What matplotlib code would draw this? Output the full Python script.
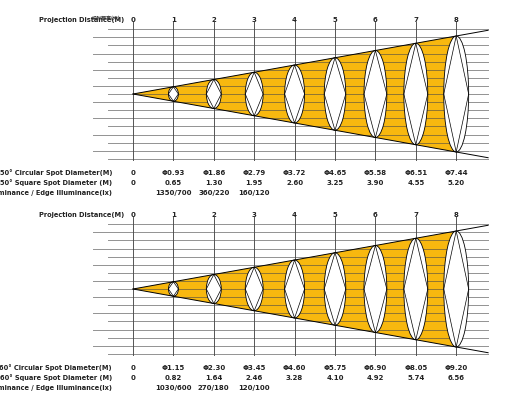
import matplotlib
matplotlib.use("Agg")
import matplotlib.pyplot as plt
from matplotlib.patches import Ellipse, Polygon
import numpy as np

# chart data
distances = [0, 1, 2, 3, 4, 5, 6, 7, 8]
circ_50 = [0, 0.93, 1.86, 2.79, 3.72, 4.65, 5.58, 6.51, 7.44]
square_50 = [0, 0.65, 1.30, 1.95, 2.60, 3.25, 3.90, 4.55, 5.20]
lux_50 = ["1350/700", "360/220", "160/120"]
circ_60 = [0, 1.15, 2.30, 3.45, 4.60, 5.75, 6.90, 8.05, 9.20]
square_60 = [0, 0.82, 1.64, 2.46, 3.28, 4.10, 4.92, 5.74, 6.56]
lux_60 = ["1030/600", "270/180", "120/100"]

plt.rcParams['font.family'] = ['Liberation Sans Narrow', 'DejaVu Sans']

YELLOW = '#F8B80F'
TXT = '#222222'
PX_X = 40.4   # px per metre
PX_Y = 8.1    # px per grid unit
W, H = 515, 405

fig = plt.figure(figsize=(W / 100, H / 100), dpi=100)


def panel(top_px, angle, circ, square, lux, garble=False):
    ax = fig.add_axes([0, 1 - (top_px + 200) / H, 1, 200 / H])
    ax.set_xlim(-133 / PX_X, (W - 133) / PX_X)
    ax.set_ylim((94 - 200) / PX_Y, 94 / PX_Y)
    ax.axis('off')

    half_max = 7.16
    k = half_max / (circ[-1] / 2)
    slope = half_max / distances[-1]
    x_end = 8.79
    x_a, x_b = (93 - 133) / PX_X, (108 - 133) / PX_X

    # vertical distance lines
    for d in distances:
        ax.plot([d, d], [-8.15, 8.9], color='#555555', lw=0.7, zorder=1)

    # beam fill
    ax.add_patch(Polygon([(0, 0), (distances[-1], half_max), (distances[-1], -half_max)],
                         closed=True, facecolor=YELLOW, edgecolor='none', zorder=2))

    # horizontal grid lines
    for i, u in enumerate(range(8, -9, -1)):
        x0 = x_b if i % 2 == 0 else x_a
        ax.plot([x0, x_end], [u, u], color='#4a4a4a', lw=0.7, alpha=0.6, zorder=3)

    # spots
    for d, c in zip(distances[1:], circ[1:]):
        half = c / 2 * k
        h_px = 2 * half * PX_Y
        w = (7.2 * np.log(h_px) - 9.3) / PX_X
        ax.add_patch(Ellipse((d, 0), w, 2 * half, facecolor='white',
                             edgecolor='black', lw=0.6, zorder=4))
        ax.add_patch(Polygon([(d, half), (d - w / 2, 0), (d, -half), (d + w / 2, 0)],
                             closed=True, facecolor='none', edgecolor='black', lw=0.5, zorder=5))

    # beam edges
    ax.plot([0, x_end], [0, slope * x_end], color='black', lw=0.7, zorder=6)
    ax.plot([0, x_end], [0, -slope * x_end], color='black', lw=0.7, zorder=6)

    fs = 5.0
    fl = 4.8
    y_head = 74 / PX_Y
    ax.text(-0.22, y_head, 'Projection Distance(M)', ha='right', va='center',
            fontsize=fl, fontweight='bold', color=TXT)
    if garble:
        ax.text(-0.65, y_head + 0.2, '投射距离(米)', ha='center', va='center',
                fontsize=3.6, fontweight='bold', color='#333333',
                family=['Noto Sans CJK SC', 'DejaVu Sans'])
    for d in distances:
        ax.text(d, y_head, str(d), ha='center', va='center',
                fontsize=fs, fontweight='bold', color=TXT)

    rows = [-79 / PX_Y, -89 / PX_Y, -99 / PX_Y]
    x_lab = (112 - 133) / PX_X
    ax.text(x_lab, rows[0], f'{angle}° Circular Spot Diameter(M)', ha='right', va='center',
            fontsize=fl, fontweight='bold', color=TXT)
    ax.text(x_lab, rows[1], f'{angle}° Square Spot Diameter (M)', ha='right', va='center',
            fontsize=fl, fontweight='bold', color=TXT)
    ax.text(x_lab, rows[2], 'Center Illuminance / Edge Illuminance(lx)', ha='right', va='center',
            fontsize=fl, fontweight='bold', color=TXT)

    for d, c, s in zip(distances, circ, square):
        ct = '0' if d == 0 else f'Φ{c:.2f}'
        st = '0' if d == 0 else f'{s:.2f}'
        ax.text(d, rows[0], ct, ha='center', va='center', fontsize=fs,
                fontweight='bold', color=TXT)
        ax.text(d, rows[1], st, ha='center', va='center', fontsize=fs,
                fontweight='bold', color=TXT)
    for d, lx in zip(distances[1:], lux):
        ax.text(d, rows[2], lx, ha='center', va='center', fontsize=fs,
                fontweight='bold', color=TXT)
    return ax


panel(0, 50, circ_50, square_50, lux_50, garble=True)
panel(195, 60, circ_60, square_60, lux_60)

fig.savefig('out.png', dpi=100, facecolor='white')
